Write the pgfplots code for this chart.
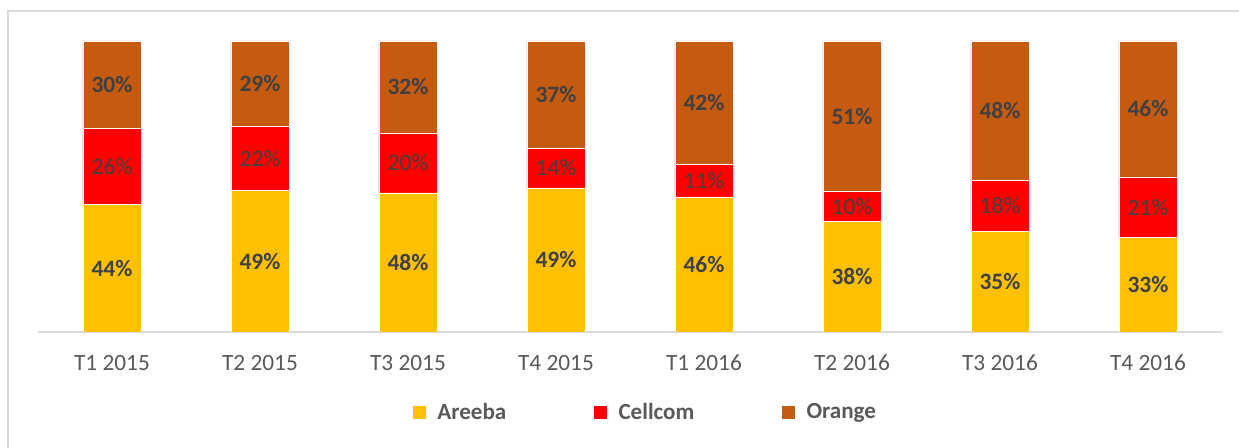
\documentclass[border=0pt]{standalone}
\usepackage{pgfplots}
\pgfplotsset{compat=1.18}
\usepackage{pgfplotstable}
\usepackage{fontspec}
\setmainfont{Carlito}
\definecolor{cyel}{HTML}{FFC000}
\definecolor{cred}{HTML}{FF0000}
\definecolor{corg}{HTML}{C55A11}
\definecolor{lblc}{HTML}{404040}
\definecolor{tickc}{HTML}{595959}
\definecolor{gridc}{HTML}{D9D9D9}
\pgfplotstableread{
x y lab
0 43.9 44
1 48.7 49
2 47.8 48
3 49.5 49
4 46.4 46
5 38.1 38
6 34.7 35
7 32.5 33
}\areeba
\pgfplotstableread{
x y lab
0 26.0 26
1 22.1 22
2 20.6 20
3 13.7 14
4 11.3 11
5 10.3 10
6 17.5 18
7 20.8 21
}\cellcom
\pgfplotstableread{
x y lab
0 30.1 30
1 29.2 29
2 31.6 32
3 36.8 37
4 42.3 42
5 51.6 51
6 47.8 48
7 46.7 46
}\orange
\begin{document}
\begin{tikzpicture}
\useasboundingbox (0,0) rectangle (929.25pt,336pt);
\draw[gridc, line width=1.2pt] (6pt,0) -- (6pt,327.75pt) -- (929.25pt,327.75pt);
\begin{axis}[
  at={(28.5pt,87pt)}, anchor=south west,
  scale only axis, width=888pt, height=218.25pt,
  ybar stacked, bar width=0.395,
  xmin=-0.5, xmax=7.5, ymin=0, ymax=100,
  axis y line=none,
  axis x line*=bottom,
  x axis line style={gridc, line width=1.2pt, -},
  xtick=data, xtick style={draw=none},
  xticklabels={T1 2015,T2 2015,T3 2015,T4 2015,T1 2016,T2 2016,T3 2016,T4 2016},
  xticklabel style={anchor=center, yshift=-23pt, text=tickc, font=\fontsize{17.5}{20}\selectfont},
  point meta=explicit symbolic,
  nodes near coords={\pgfplotspointmeta\%},
  nodes near coords align=center,
  every node near coord/.append style={anchor=center, text=lblc},
  legend columns=3,
  legend style={at={(0.3167,-0.275)}, anchor=west, draw=none, inner sep=0pt,
    font=\fontsize{17.3}{20}\selectfont\bfseries, text=tickc,
    /tikz/every even column/.append style={column sep=64pt}},
  legend image code/.code={\fill[#1,draw=none] (0pt,-4.875pt) rectangle (9.75pt,4.875pt); \path (16pt,0);},
]
\addplot[fill=cyel, draw=white, line width=0.3pt, nodes near coords style={font=\fontsize{17.6}{20}\selectfont\bfseries}] table[x=x,y=y,meta=lab] {\areeba};
\addplot[fill=cred, draw=white, line width=0.3pt, nodes near coords style={font=\fontsize{17.6}{20}\selectfont}] table[x=x,y=y,meta=lab] {\cellcom};
\addplot[fill=corg, draw=white, line width=0.3pt, nodes near coords style={font=\fontsize{17.6}{20}\selectfont\bfseries}] table[x=x,y=y,meta=lab] {\orange};
\legend{Areeba,Cellcom,Orange}
\end{axis}
\end{tikzpicture}
\end{document}
